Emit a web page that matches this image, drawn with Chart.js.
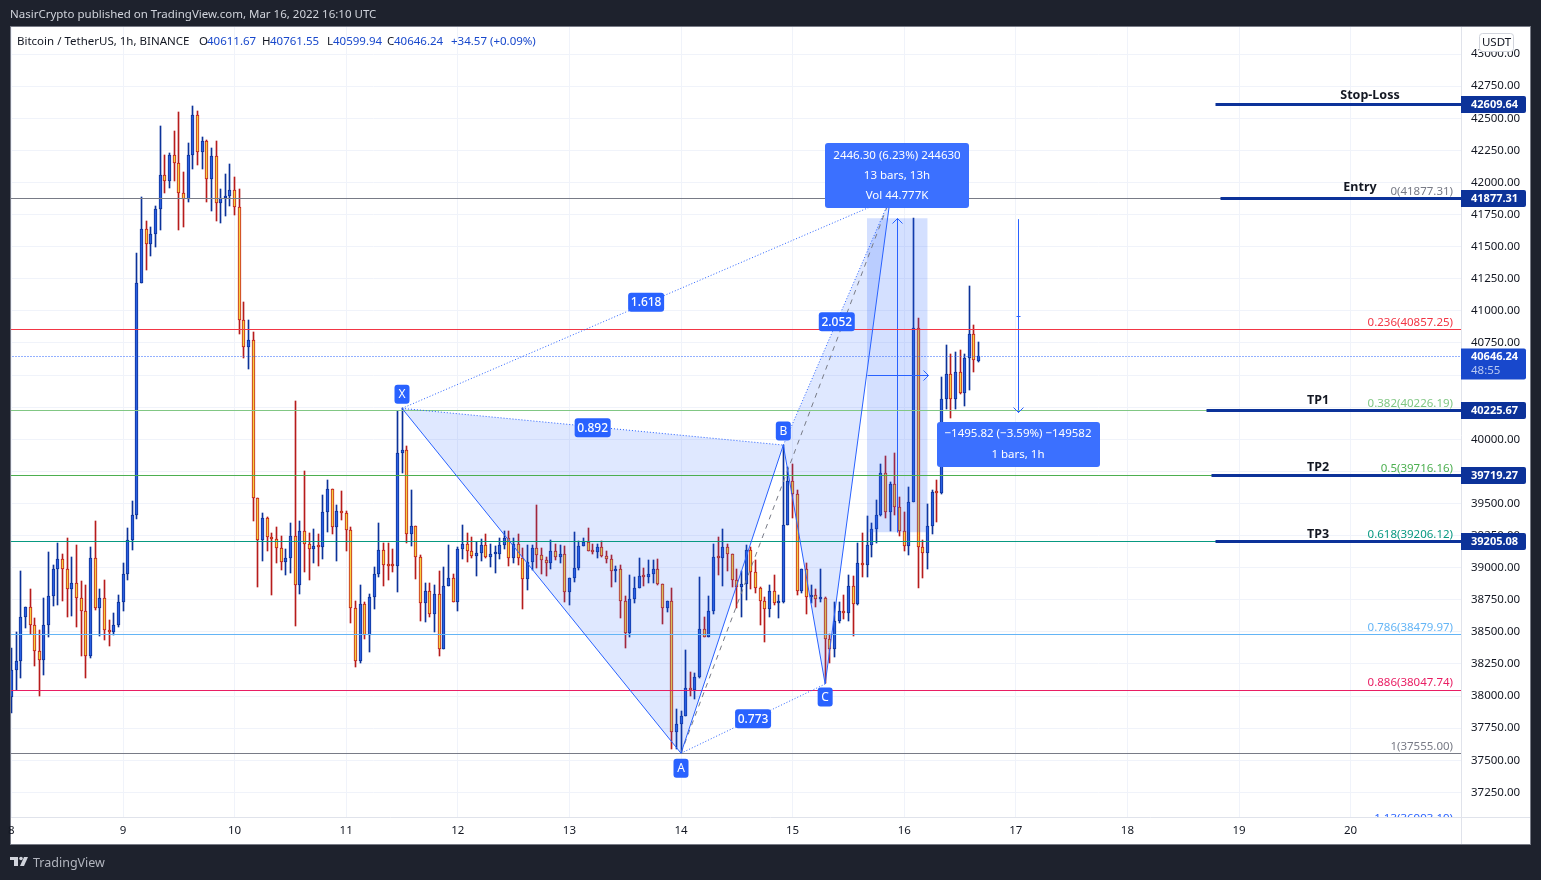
<!DOCTYPE html>
<html><head><meta charset="utf-8"><style>html,body{margin:0;padding:0;background:#1e222d;overflow:hidden}canvas{display:block}</style>
<script src="https://cdn.jsdelivr.net/npm/chart.js@4"></script></head><body><canvas id="c" width="1541" height="880"></canvas>
<script>
const opens=[37990,38201,38271,38614,38697,38551,38349,38279,38551,38777,
38987,39065,38987,38832,38878,38761,38660,38310,39073,38684,
38761,38512,38497,38551,38730,38948,39213,39408,41214,41635,
41518,41596,41791,42055,42009,42211,42149,41915,41869,42211,
42523,42235,42320,42024,42203,41837,41876,41892,41939,41806,
40926,40716,40770,39540,39213,39385,39237,39221,39151,39047,
39073,39244,38863,39283,39182,39143,39166,39159,39431,39610,
39314,39439,39423,39291,38684,38271,38715,38479,38769,38948,
39135,39019,39014,39010,39891,39914,39260,39322,39081,38723,
38816,38637,38793,38364,38855,38917,38730,39143,39182,39128,
39089,39112,39174,39081,39104,39104,39174,39229,39078,39182,
39073,38909,39042,39151,39096,39057,39034,39127,39081,39104,
38808,38917,38995,39166,39198,39127,39120,39159,39088,39065,
38972,38987,38738,38494,38754,38839,38933,38925,38948,38987,
38870,38684,38738,37718,37780,37842,38061,38047,38146,38520,
38463,38660,39081,39075,39159,39104,38902,38847,38870,39135,
38963,38839,38738,38675,38815,38722,38730,39329,39672,39571,
38818,38987,38769,38784,38753,38761,38442,38364,38582,38660,
38644,38854,38714,39033,39018,39174,39298,39407,39734,39431,
39649,39470,39283,39166,39509,40865,39158,39111,39322,39586,
39579,40312,40506,40312,40522,40358,40631,40818,40611.67];
const closes=[38201,38271,38614,38697,38551,38349,38279,38551,38777,38987,
39065,38987,38832,38878,38761,38660,38310,39073,38684,38761,
38512,38497,38551,38730,38948,39213,39408,41214,41635,41518,
41596,41791,42055,42009,42211,42149,41915,41869,42211,42523,
42235,42320,42024,42203,41837,41876,41892,41939,41806,40926,
40716,40770,39540,39213,39385,39237,39221,39151,39047,39073,
39244,38863,39283,39182,39143,39166,39159,39431,39610,39314,
39439,39423,39291,38684,38271,38715,38479,38769,38948,39135,
39019,39014,39010,39891,39914,39260,39322,39081,38723,38816,
38637,38793,38364,38855,38917,38730,39143,39182,39128,39089,
39112,39174,39081,39104,39106,39174,39229,39078,39182,39073,
38909,39042,39151,39096,39057,39034,39127,39081,39104,38808,
38917,38995,39166,39198,39127,39120,39159,39088,39065,38972,
38987,38738,38494,38754,38839,38933,38925,38948,38987,38870,
38684,38738,37718,37780,37842,38061,38047,38146,38520,38463,
38660,39081,39075,39159,39104,38902,38847,38870,39135,38964,
38839,38738,38675,38815,38722,38730,39329,39672,39571,38818,
38987,38769,38784,38753,38761,38442,38364,38582,38660,38644,
38854,38714,39033,39018,39174,39298,39407,39734,39431,39649,
39470,39283,39166,39509,40865,39158,39111,39322,39586,39579,
40312,40506,40312,40522,40358,40631,40818,40615,40646.24];
const highs=[38372,38497,38972,38697,38832,38606,38512,38761,39120,39019,
39190,39107,39229,39081,39174,38894,38863,39159,39361,38832,
38902,38590,38645,38785,39037,39307,39517,41448,41884,41697,
41650,41814,42437,42214,42227,42398,42546,42079,42305,42593,
42554,42351,42328,42266,42320,41946,42063,42141,42040,41946,
41066,40926,40833,39540,39423,39397,39268,39317,39244,39146,
39346,40296,39361,39751,39268,39299,39260,39564,39683,39610,
39486,39595,39439,39314,38738,38863,38730,38793,39003,39346,
39190,39190,39146,40218,40241,39945,39603,39322,39096,38878,
38878,38863,38972,39003,39174,38948,39159,39330,39268,39237,
39200,39221,39260,39182,39166,39229,39286,39283,39229,39260,
39151,39174,39174,39486,39151,39081,39213,39182,39174,39166,
38917,39275,39205,39229,39307,39182,39182,39205,39127,39096,
39011,39018,38777,38941,38925,39073,38995,39057,39057,39065,
38870,38738,38839,37897,37881,38356,38185,38177,38925,38613,
38777,39182,39236,39299,39182,39104,38987,38972,39174,39158,
39057,38847,38769,38862,38940,38784,39955,39781,39804,39602,
38987,39033,38862,38831,38987,38769,38481,38730,38730,38784,
38940,38932,39189,39267,39399,39345,39524,39804,39867,39664,
39890,39547,39431,39625,41721,40942,39213,39493,39602,39680,
40483,40732,40662,40678,40693,40662,41192,40888,40761.55];
const lows=[37868,38048,38144,38533,38486,38237,38003,38167,38463,38704,
38712,38743,38619,38627,38541,38315,38144,38294,38668,38471,
38440,38393,38478,38536,38665,38904,39138,39379,41214,41318,
41427,41497,41630,41918,41957,42011,41630,41653,41848,42105,
42136,42105,41848,41778,41700,41684,41739,41817,41746,40820,
40633,40550,39361,38852,39052,39130,38787,39037,38982,38943,
38959,38546,38795,38967,38904,39037,39013,39068,39276,39263,
39052,39372,39130,38569,38229,38260,38447,38346,38681,38925,
38858,38904,38967,38811,39738,39190,39169,38912,38588,38580,
38619,38502,38315,38364,38855,38730,38665,39068,39044,39073,
38935,39052,39073,39005,38959,39065,39143,39013,39037,39021,
38678,38826,38982,38995,38951,38935,38990,39060,39037,38733,
38710,38889,38982,39166,39127,39104,39076,39081,39034,38850,
38889,38608,38375,38460,38725,38839,38857,38878,38878,38863,
38562,38655,37585,37585,37555,37842,38001,37980,38138,38463,
38463,38637,38943,38857,38974,38852,38684,38616,38748,38831,
38800,38553,38423,38618,38706,38610,38722,39329,39387,38784,
38800,38639,38722,38693,38730,38099,38260,38307,38566,38597,
38582,38470,38706,38930,38930,39085,39189,39399,39384,39283,
39407,39244,39127,39096,39509,38839,38917,38987,39259,39358,
39571,40234,40169,40234,40351,40257,40382,40522,40599.94];
const hours=opens.map((_,i)=>i);
const dayTicks=[0,24,48,72,96,120,144,168,192,216,240,264,288];
const dayLabels=['8','9','10','11','12','13','14','15','16','17','18','19','20'];
const priceTicks=[37250,37500,37750,38000,38250,38500,38750,39000,39250,39500,39750,40000,40250,40500,40750,41000,41250,41500,41750,42000,42250,42500,42750,43000];
const fibRatios=['0','0.236','0.382','0.5','0.618','0.786','0.886','1','1.13'];
const fibPrices=[41877.31,40857.25,40226.19,39716.16,39206.12,38479.97,38047.74,37555.00,36993.19];
const fibColors=['#787b86','#f23645','#81c784','#4caf50','#089981','#64b5f6','#e91e63','#787b86','#2962ff'];
const lastPrice=40646.24;
const tagNames=['Stop-Loss','Entry','TP1','TP2','TP3'];
const tagPrices=[42609.64,41877.31,40225.67,39719.27,39205.08];
const tagStartHours=[259,260,257,258,259];
const patNames=['X','A','B','C','D'];
const patHours=[84,144,166,175,189];
const patPrices=[40241,37555,39955,38094,41877];
const ratioLabels=['1.618','0.892','0.773','2.052'];
const range1Hours=[184,197], range1Prices=[39276,41722];
const range2Hour=216.5, range2Prices=[41709,40213];

const BLUE='#2962ff', NAVY='#0c3299', UI='"Noto Sans",sans-serif', FS='11.5px ';
const pt=i=>({x:patHours[i],y:patPrices[i]});
const line=(data,color,opt={})=>Object.assign({type:'line',data,borderColor:color,borderWidth:1,pointRadius:0,fill:false,tension:0,order:1},opt);
const crisp=v=>Math.floor(v+.1)+.5;

const datasets=[
 {label:'wicks',type:'bar',data:hours.map(i=>({x:i,y:[lows[i],highs[i]]})),barThickness:1,grouped:false,order:9,snapBar:true,
  backgroundColor:c=>closes[c.dataIndex]>=opens[c.dataIndex]?NAVY:'#b71c1c',borderWidth:0},
 {label:'bodies',type:'bar',data:hours.map(i=>({x:i,y:[Math.min(opens[i],closes[i]),Math.max(opens[i],closes[i])]})),barThickness:3,grouped:false,order:8,minBarLength:2,snapBar:true,
  backgroundColor:c=>closes[c.dataIndex]>=opens[c.dataIndex]?'#2a5fe0':'#f5cf3f',
  borderColor:c=>closes[c.dataIndex]>=opens[c.dataIndex]?NAVY:'#c21c1c',borderWidth:1,borderSkipped:false},
 line([pt(0),pt(1),pt(2),pt(0)],'transparent',{fill:'shape',backgroundColor:'rgba(41,98,255,0.15)',order:7}),
 line([pt(2),pt(3),pt(4),pt(2)],'transparent',{fill:'shape',backgroundColor:'rgba(41,98,255,0.15)',order:7}),
 line([{x:range1Hours[0],y:range1Prices[0]},{x:range1Hours[0],y:range1Prices[1]},{x:range1Hours[1],y:range1Prices[1]},{x:range1Hours[1],y:range1Prices[0]},{x:range1Hours[0],y:range1Prices[0]}],'transparent',{fill:'shape',backgroundColor:'rgba(41,98,255,0.2)',order:7}),
 line([pt(0),pt(1)],BLUE),line([pt(1),pt(2)],BLUE),line([pt(2),pt(3)],BLUE),line([pt(3),pt(4)],BLUE),
 line([pt(0),pt(4)],BLUE,{borderDash:[1,2]}),line([pt(0),pt(2)],BLUE,{borderDash:[1,2]}),
 line([pt(1),pt(3)],BLUE,{borderDash:[1,2]}),line([pt(2),pt(4)],BLUE,{borderDash:[1,2]}),
 line([pt(1),pt(4)],'#787b86',{borderDash:[5,5]}),
 ...fibPrices.map((p,i)=>line([{x:-1,y:p},{x:320,y:p}],fibColors[i],{snapLine:true})),
 line([{x:-1,y:lastPrice},{x:320,y:lastPrice}],BLUE,{borderDash:[1,2],snapLine:true}),
 ...tagPrices.map((p,i)=>line([{x:tagStartHours[i],y:p},{x:320,y:p}],NAVY,{borderWidth:3,order:0,snapLine:true})),
 line([{x:(range1Hours[0]+range1Hours[1])/2,y:range1Prices[0]},{x:(range1Hours[0]+range1Hours[1])/2,y:range1Prices[1]}],BLUE,{snapLine:true}),
 line([{x:range1Hours[0],y:(range1Prices[0]+range1Prices[1])/2},{x:range1Hours[1]+.2,y:(range1Prices[0]+range1Prices[1])/2}],BLUE,{snapLine:true}),
 line([{x:range2Hour,y:range2Prices[0]},{x:range2Hour,y:range2Prices[1]}],BLUE,{snapLine:true})
];

function pill(ctx,x,y,w,h,r,color){ctx.fillStyle=color;ctx.beginPath();ctx.roundRect(x,y,w,h,r);ctx.fill();}
function text(ctx,s,x,y,color,font,align='left'){ctx.fillStyle=color;ctx.font=font;ctx.textAlign=align;ctx.textBaseline='middle';ctx.fillText(s,x,y);}

const snap={id:'snap',afterDatasetsUpdate(ch){
 ch.data.datasets.forEach((d,i)=>{const m=ch.getDatasetMeta(i);
  if(d.snapBar)m.data.forEach(el=>{el.x=Math.floor(el.x)+.5;let t=Math.round(el.y),b=Math.round(el.base);if(t===b)t-=1;el.y=t;el.base=b;});
  if(d.snapLine)m.data.forEach(el=>{el.x=Math.floor(el.x)+.5;el.y=crisp(el.y);});
 });}};

const deco={id:'deco',
 beforeDraw(ch){const c=ch.ctx;c.save();c.fillStyle='#1e222d';c.fillRect(0,0,1541,880);
  c.fillStyle='#fff';c.fillRect(11,27,1519,817);c.strokeStyle='#787b86';c.lineWidth=1;c.strokeRect(10.5,26.5,1520,818);c.restore();},
 afterDraw(ch){const c=ch.ctx,X=ch.scales.x,Y=ch.scales.y,a=ch.chartArea;const px=h=>X.getPixelForValue(h),py=p=>Y.getPixelForValue(p);
  c.save();
  c.strokeStyle='#e0e3eb';c.lineWidth=1;c.beginPath();c.moveTo(1461.5,27);c.lineTo(1461.5,844);c.moveTo(11,817.5);c.lineTo(1530,817.5);c.stroke();
  c.strokeStyle=BLUE;c.lineWidth=1;
  const ax=Math.floor(px((range1Hours[0]+range1Hours[1])/2))+.5,ay=crisp(py(range1Prices[1])),hy=crisp(py((range1Prices[0]+range1Prices[1])/2)),hx=Math.floor(px(range1Hours[1]+.2))+.5;
  c.beginPath();c.moveTo(ax-5,ay+5);c.lineTo(ax,ay);c.lineTo(ax+5,ay+5);c.moveTo(hx-5,hy-5);c.lineTo(hx,hy);c.lineTo(hx-5,hy+5);
  const bx=Math.floor(px(range2Hour))+.5,by=crisp(py(range2Prices[1])),my=crisp(py((range2Prices[0]+range2Prices[1])/2));
  c.moveTo(bx-5,by-5);c.lineTo(bx,by);c.lineTo(bx+5,by-5);c.moveTo(bx-2,my);c.lineTo(bx+2,my);c.stroke();
  c.save();c.beginPath();c.rect(a.left,a.top,a.right-a.left,a.bottom-a.top);c.clip();
  fibPrices.forEach((p,i)=>text(c,fibRatios[i]+'('+p.toFixed(2)+')',1453,py(p)-7,fibColors[i],FS+UI,'right'));
  c.restore();
  const tagX=[1370,1360,1318,1318,1318],tagDy=[-9,-11,-10,-8,-7];
  tagPrices.forEach((p,i)=>text(c,tagNames[i],tagX[i],py(p)+tagDy[i],'#131722','bold 12.5px '+UI,'center'));
  const off=[-14,15,-14,13];
  [0,1,2,3].forEach(i=>{const x=px(patHours[i]),y=py(patPrices[i])+off[i];pill(c,x-7.5,y-9.5,15,19,3,BLUE);text(c,patNames[i],x,y+.5,'#fff','12px '+UI,'center');});
  const seg=[[0,4],[0,2],[1,3],[2,4]],segDy=[-1,1,0,0];
  seg.forEach((s,i)=>{const x=(px(patHours[s[0]])+px(patHours[s[1]]))/2,y=(py(patPrices[s[0]])+py(patPrices[s[1]]))/2+segDy[i];
   pill(c,x-18,y-9.5,36,19,3,BLUE);text(c,ratioLabels[i],x,y+.5,'#fff','500 12px '+UI,'center');});
  pill(c,825,143,144,65,3,'#3b70ff');
  ['2446.30 (6.23%) 244630','13 bars, 13h','Vol 44.777K'].forEach((s,i)=>text(c,s,897,155.5+i*20,'#fff',FS+UI,'center'));
  pill(c,937,422,163,45,3,'#3b70ff');
  ['\u22121495.82 (\u22123.59%) \u2212149582','1 bars, 1h'].forEach((s,i)=>text(c,s,1018,434+i*20.5,'#fff',FS+UI,'center'));
  tagPrices.forEach(p=>{const y=crisp(py(p));pill(c,1461,y-8.5,65,17,[0,2,2,0],NAVY);text(c,p.toFixed(2),1471,y+.5,'#fff','bold 11px '+UI);});
  const ly=crisp(py(lastPrice));pill(c,1461,ly-8,65,31,[0,2,2,0],'#1848cc');
  text(c,lastPrice.toFixed(2),1471,ly+.5,'#fff','bold 11px '+UI);text(c,'48:55',1471,ly+14.5,'#b9c9f2',FS+UI);
  c.fillStyle='#fff';c.strokeStyle='#d1d4dc';c.beginPath();c.roundRect(1479.5,33.5,34,18,3);c.fill();c.stroke();
  text(c,'USDT',1496.5,43,'#131722',FS+UI,'center');
  text(c,'NasirCrypto published on TradingView.com, Mar 16, 2022 16:10 UTC',10,15,'#d1d4dc',FS+UI);
  const dark='#131722',val='#1848cc',lf=FS+UI;
  text(c,'Bitcoin / TetherUS, 1h, BINANCE',17,42,dark,lf);
  [['O',199,'40611.67',207],['H',262,'40761.55',270],['L',327,'40599.94',333],['C',387,'40646.24',394]].forEach(r=>{text(c,r[0],r[1],42,dark,lf);text(c,r[2],r[3],42,val,lf);});
  text(c,'+34.57 (+0.09%)',451,42,val,lf);
  c.fillStyle='#d1d4dc';c.fillRect(10,857,8,3);c.fillRect(14,857,4,9);c.beginPath();c.arc(21,858.5,1.8,0,7);c.fill();
  c.beginPath();c.moveTo(24,857);c.lineTo(28,857);c.lineTo(24,866);c.lineTo(20,866);c.closePath();c.fill();
  text(c,'TradingView',33,863,'#b2b5be','12.5px '+UI);
  c.restore();}
};

new Chart(document.getElementById('c'),{type:'bar',data:{datasets},plugins:[snap,deco],options:{
 responsive:false,animation:false,events:[],devicePixelRatio:1,
 layout:{padding:{left:11,top:27,right:11,bottom:36}},
 plugins:{legend:{display:false},tooltip:{enabled:false},title:{display:false}},
 scales:{
  x:{type:'linear',offset:false,min:-0.086,max:311.74,position:'bottom',
   afterFit:s=>{s.height=27;},afterBuildTicks:s=>{s.ticks=dayTicks.map(v=>({value:v}));},
   grid:{color:'#f0f3fa',offset:false,drawTicks:false},border:{display:false},
   ticks:{autoSkip:false,maxRotation:0,padding:7,color:'#131722',font:{family:'"Noto Sans"',size:11.5},callback:v=>dayLabels[dayTicks.indexOf(v)]}},
  y:{type:'linear',position:'right',min:37058.4,max:43211,
   afterFit:s=>{s.width=69;},afterBuildTicks:s=>{s.ticks=priceTicks.map(v=>({value:v}));},
   grid:{color:'#f0f3fa',drawTicks:false},border:{display:false},
   ticks:{autoSkip:false,padding:10,crossAlign:'near',color:'#131722',font:{family:'"Noto Sans"',size:11.5},callback:v=>v.toFixed(2)}}
 }}});
</script></body></html>
